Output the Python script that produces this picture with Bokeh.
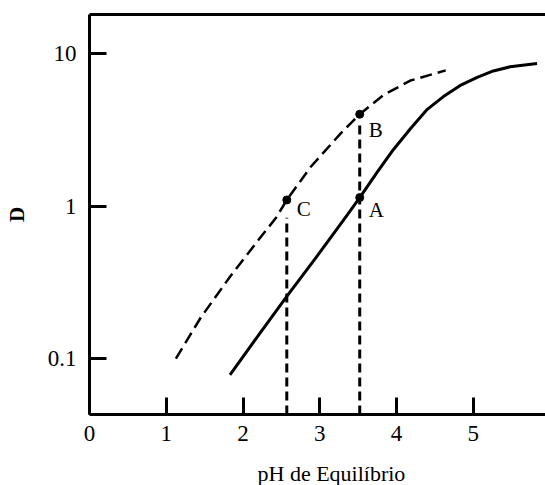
from bokeh.plotting import figure
from bokeh.models import Range1d, FixedTicker, LinearAxis, Title, ColumnDataSource
from bokeh.embed import file_html
from bokeh.resources import INLINE
from bokeh.core.properties import value

# ---- data ----
solid_ph = [1.83, 2.20, 2.57, 2.95, 3.33, 3.52, 3.75, 3.96, 4.18, 4.40, 4.61, 4.83, 5.05, 5.26, 5.48, 5.83]
solid_d = [0.078, 0.142, 0.256, 0.46, 0.84, 1.14, 1.68, 2.36, 3.23, 4.33, 5.25, 6.22, 7.02, 7.74, 8.24, 8.65]

dashed_ph = [1.125, 1.45, 1.84, 2.20, 2.43, 2.57, 2.88, 3.27, 3.52, 3.83, 4.18, 4.64]
dashed_d = [0.10, 0.186, 0.35, 0.60, 0.84, 1.10, 1.81, 3.0, 4.02, 5.38, 6.69, 7.8]

point_labels = ["A", "B", "C"]
point_ph = [3.52, 3.52, 2.57]
point_d = [1.14, 4.02, 1.10]

drop_ph = [2.57, 3.52]
drop_top = [0.84, 3.6]

x_ticks = [0, 1, 2, 3, 4, 5]
y_ticks = [0.1, 1, 10]
y_tick_labels = ["0.1", "1", "10"]
x_label = "pH de Equilíbrio"
y_label = "D"

X_MIN, X_MAX = 0.0, 5.94
Y_MIN, Y_MAX = 0.0429, 18.17

FONT = "Liberation Serif"

p = figure(width=545, height=485, output_backend="svg", toolbar_location=None,
           y_axis_type="log",
           x_range=Range1d(X_MIN, X_MAX), y_range=Range1d(Y_MIN, Y_MAX),
           min_border_left=89, min_border_right=0, min_border_top=14, min_border_bottom=0)
p.outline_line_color = None
p.grid.visible = False
p.background_fill_color = "white"
p.border_fill_color = "white"

# x axis
xa = p.xaxis[0]
xa.ticker = FixedTicker(ticks=x_ticks, minor_ticks=[])
xa.axis_line_width = 3
xa.axis_line_color = "black"
xa.major_tick_in = 17
xa.major_tick_out = 0
xa.major_tick_line_width = 3
xa.major_tick_line_color = "black"
xa.minor_tick_line_color = None
xa.major_label_standoff = 11
xa.major_label_text_font = FONT
xa.major_label_text_font_size = "23px"
xa.major_label_text_color = "black"

# y axis
ya = p.yaxis[0]
ya.ticker = FixedTicker(ticks=y_ticks, minor_ticks=[])
ya.major_label_overrides = dict(zip(y_ticks, y_tick_labels))
ya.axis_line_width = 3
ya.axis_line_color = "black"
ya.major_tick_in = 17
ya.major_tick_out = 0
ya.major_tick_line_width = 3
ya.major_tick_line_color = "black"
ya.minor_tick_line_color = None
ya.major_label_standoff = 13
ya.major_label_text_font = FONT
ya.major_label_text_font_size = "23px"
ya.major_label_text_color = "black"
ya.axis_label = y_label
ya.axis_label_text_font = FONT
ya.axis_label_text_font_size = "21px"
ya.axis_label_text_font_style = "bold"
ya.axis_label_text_color = "black"
ya.axis_label_standoff = 16

# top border line
top = LinearAxis(ticker=FixedTicker(ticks=[], minor_ticks=[]), axis_line_width=3,
                 axis_line_color="black", major_tick_line_color=None,
                 minor_tick_line_color=None, major_label_text_font_size="0px",
                 major_tick_out=0, major_tick_in=0, major_label_standoff=0)
p.add_layout(top, "above")

# invisible spacer between tick labels and the x title
spacer = LinearAxis(ticker=FixedTicker(ticks=[X_MAX], minor_ticks=[]), axis_line_color=None,
                    major_tick_line_color=None, minor_tick_line_color=None,
                    major_label_overrides={X_MAX: ""}, major_tick_out=15,
                    major_tick_in=0, major_label_standoff=0)
p.add_layout(spacer, "below")

# x label as a positioned title below
t = Title(text=x_label, align="left", offset=168, text_font=FONT,
          text_font_size="22px", text_font_style="normal", text_color="black",
          standoff=0, vertical_align="bottom")
p.add_layout(t, "below")

# drop lines
p.segment(x0=drop_ph, y0=[Y_MIN] * len(drop_ph), x1=drop_ph, y1=drop_top,
          line_color="black", line_width=3, line_dash="9 5")

# curves
p.line(solid_ph, solid_d, line_color="black", line_width=3, line_join="round")
p.line(dashed_ph, dashed_d, line_color="black", line_width=2.5, line_dash="12 6")

# points and labels
src = ColumnDataSource(dict(x=point_ph, y=point_d, t=point_labels,
                            dx=[9, 9, 10], dy=[12, 16, 9]))
p.scatter("x", "y", source=src, size=8, color="black")
p.text("x", "y", text="t", source=src, x_offset="dx", y_offset="dy",
       text_font=value(FONT), text_font_size="21px", text_baseline="alphabetic",
       text_color="black")

open("out.html", "w").write(file_html(p, INLINE))
